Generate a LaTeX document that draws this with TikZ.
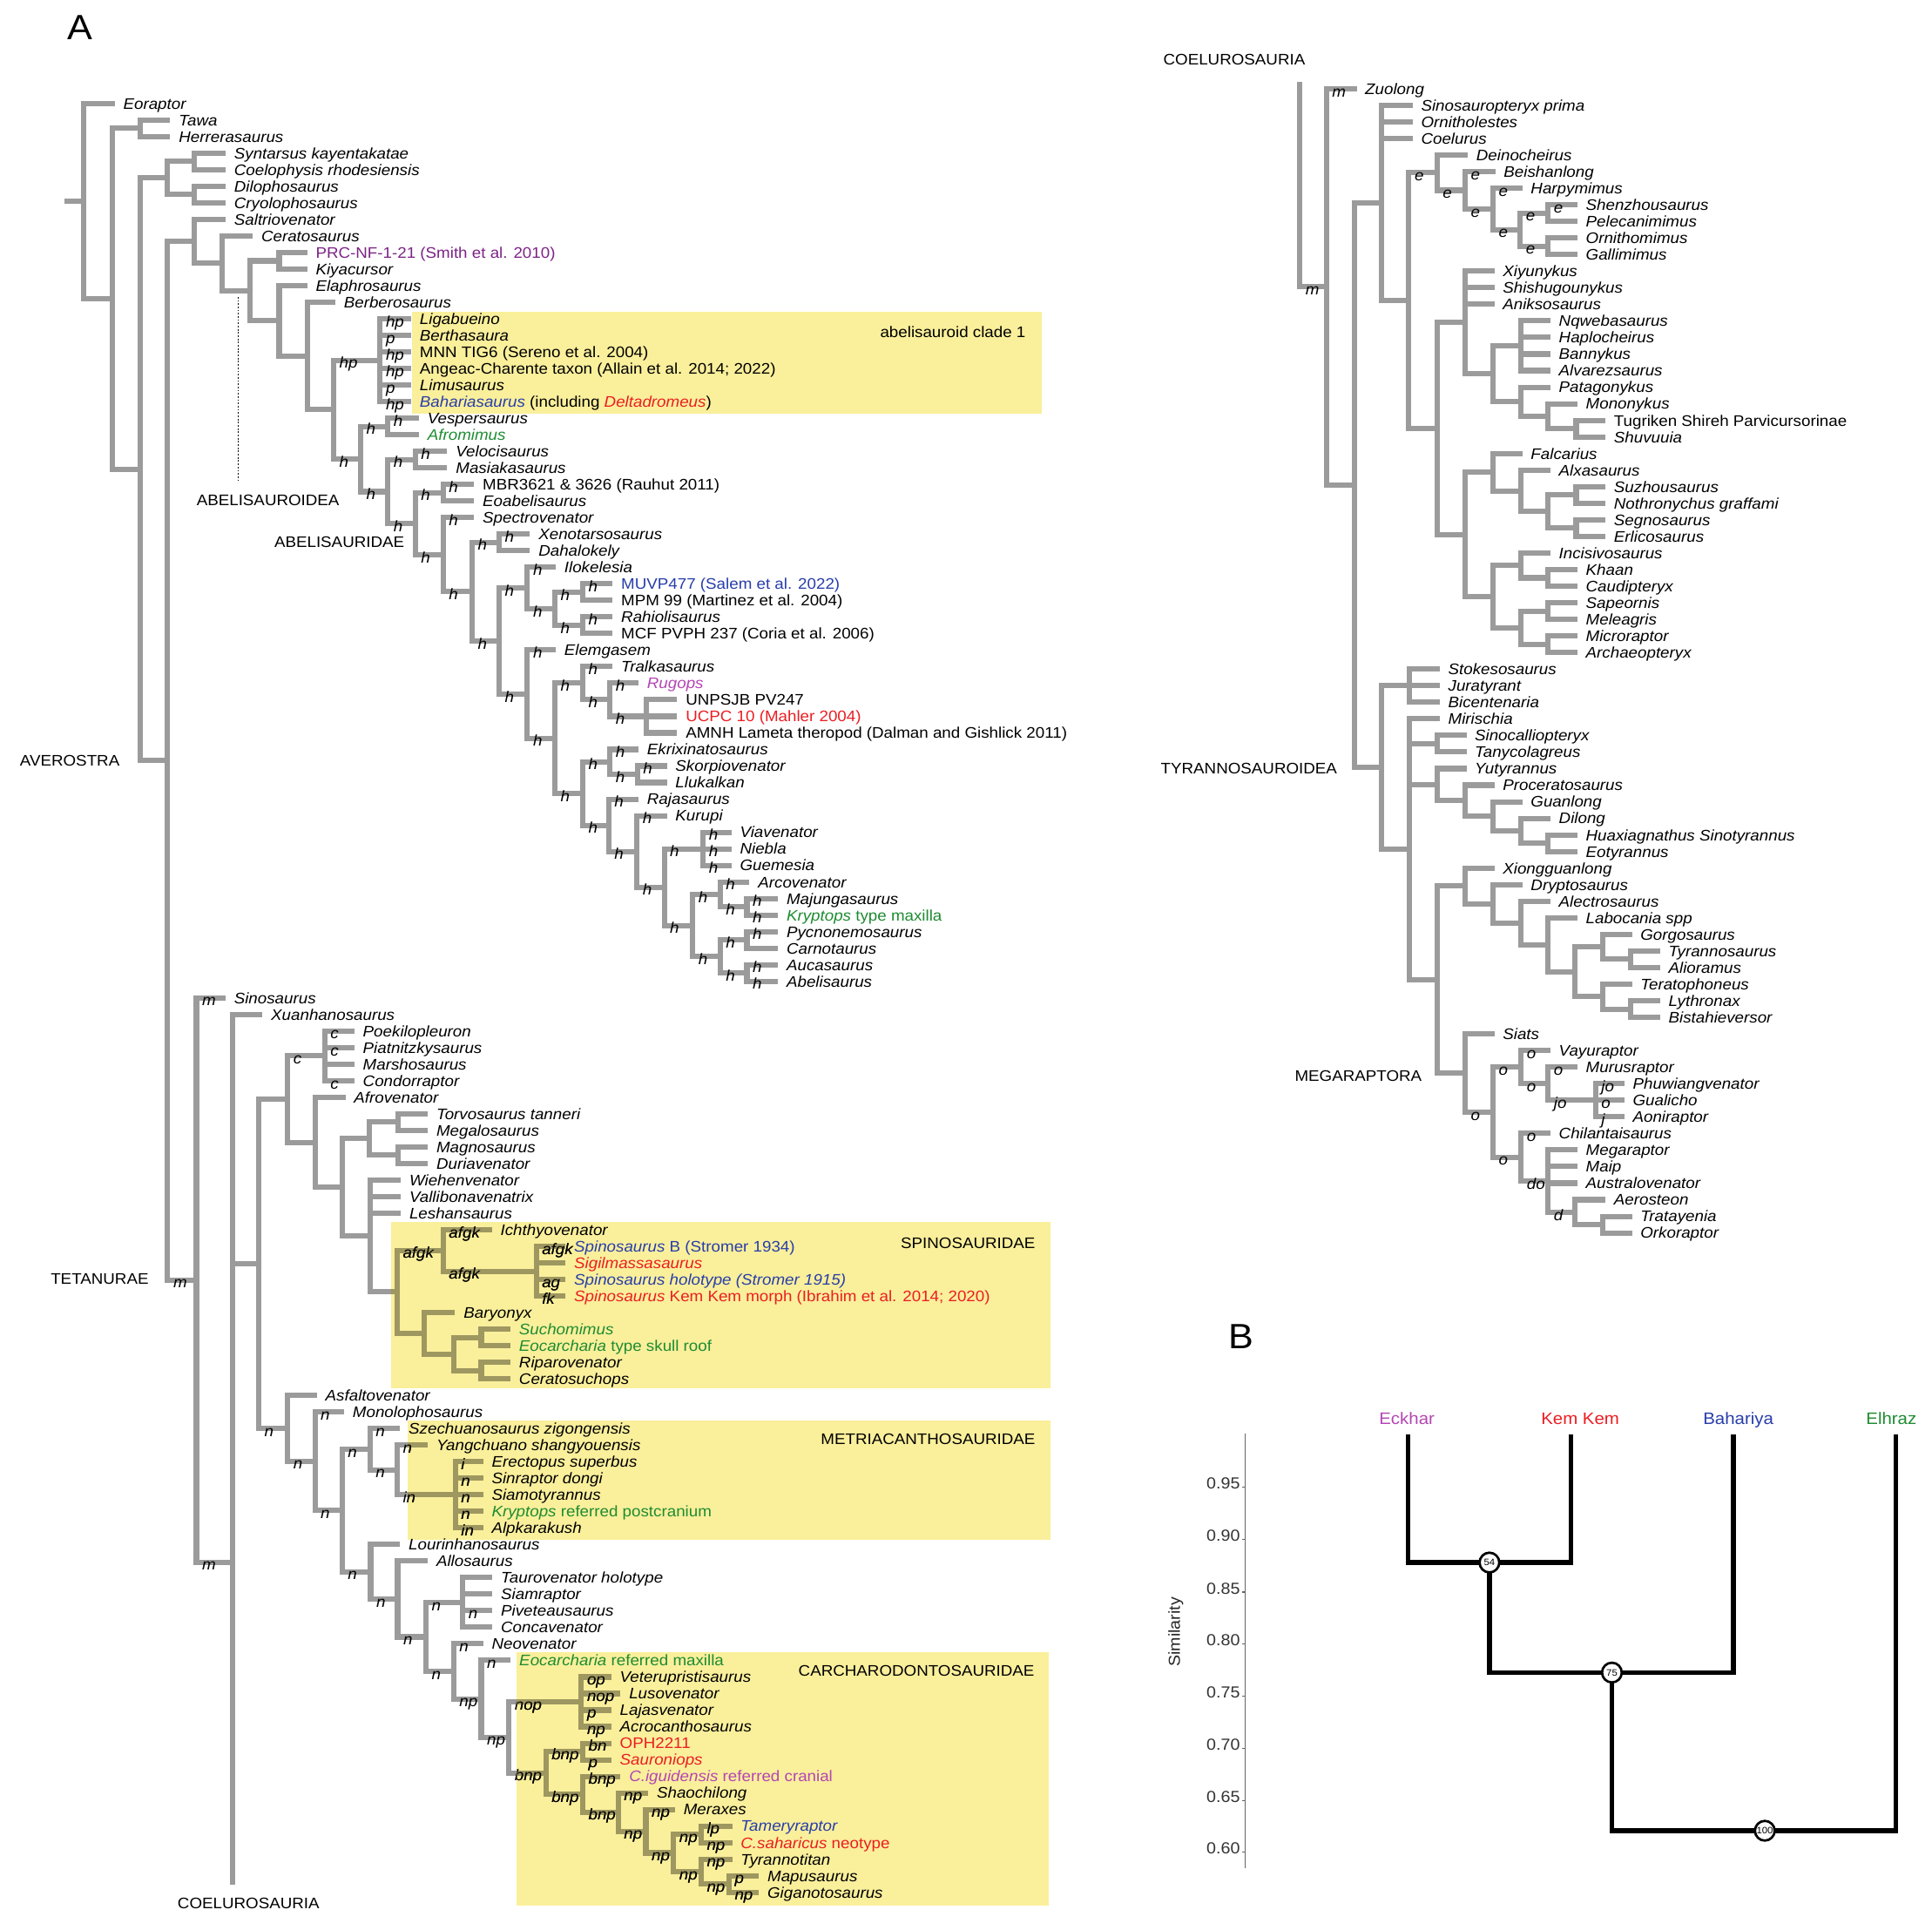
\documentclass[tikz,border=0pt]{standalone}
\usepackage{fontspec}
\setmainfont{Liberation Sans}[FakeStretch=1.07]
\usetikzlibrary{calc}
\definecolor{brg}{RGB}{155,155,155}
\definecolor{olv}{RGB}{158,151,96}
\definecolor{boxy}{RGB}{250,239,155}
\definecolor{tpur}{RGB}{125,35,135}
\definecolor{tblu}{RGB}{40,62,170}
\definecolor{tred}{RGB}{235,30,35}
\definecolor{tgrn}{RGB}{30,140,50}
\definecolor{tmag}{RGB}{180,70,180}
\colorlet{brc}{brg}
\newcommand\fs{\fontsize{12.4}{13}\selectfont}
\newcommand\I[1]{\textit{#1}}
\tikzset{
 br/.style={draw=brc,line width=4.3pt},
 tx/.style={anchor=base west,inner sep=0pt,font=\fs},
 lb/.style={anchor=base west,inner sep=0pt,font=\fs\itshape},
 grp/.style={anchor=base west,inner sep=0pt,font=\fs},
 grpr/.style={anchor=base east,inner sep=0pt,font=\fs},
 den/.style={draw=black,line width=3.8pt},
 circ/.style={circle,draw=black,fill=white,line width=1.9pt,minimum size=16pt,inner sep=0pt,font=\fontsize{7.5}{8}\selectfont},
 axis/.style={draw=black!60,line width=0.9pt},
}
\newcommand\lfL[4]{\coordinate (#1) at (#3,{84+(#2-1)*13.444});\node[tx] (#1t) at ($(#1)+(6.8,4.5)$) {#4};}
\newcommand\lfR[4]{\coordinate (#1) at (#3,{72+(#2-1)*13.46});\node[tx] (#1t) at ($(#1)+(6.5,4.5)$) {#4};}
\newcommand\cl[3]{%
 \foreach \ch/\lab [count=\ci] in {#3}{\ifnum\ci=1 \xdef\clfirst{\ch}\fi\xdef\cllast{\ch}}%
 \coordinate (clm) at ($(\clfirst)!0.5!(\cllast)$);
 \coordinate (clx) at (#2,0);
 \coordinate (#1) at (clm -| clx);
 \foreach \ch/\lab in {#3}{\draw[br] (#1) |- (\ch); \path (#1 |- \ch) ++(4.5,6.5) node[lb] {\lab};}%
}
\newcommand\drawtree{%
\cl{SC}{157.8}{synt/{},coel/{}}
\cl{DC}{157.8}{dilo/{},cryo/{}}
\cl{C0}{135.7}{SC/{},DC/{}}
\cl{PK}{226.6}{prc/{},kiya/{}}
\cl{CL1}{308.5}{liga/hp,bert/p,mnn/hp,ange/hp,limu/p,baha/hp}
\cl{VA}{314.8}{vesp/h,afro/{}}
\cl{VM}{337}{velo/h,masi/{}}
\cl{ME}{359.7}{mbr/h,eoab/{}}
\cl{XD}{405}{xeno/h,daha/{}}
\cl{MM}{472.9}{muvp/h,mpm/{}}
\cl{RM}{472.9}{rahi/h,mcf/{}}
\cl{N15}{450.3}{MM/h,RM/h}
\cl{N13}{428}{ilok/h,N15/h}
\cl{N20}{524.5}{unps/{},ucpc/{},amnh/{}}
\cl{N19}{495.1}{rugo/h,N20/h}
\cl{N17}{472.9}{tral/h,N19/h}
\cl{N23}{517.3}{skor/h,lluk/{}}
\cl{N21}{495.1}{ekri/h,N23/h}
\cl{N26}{570.6}{viav/h,nieb/h,guem/h}
\cl{N30}{606.2}{maju/h,kryp/h}
\cl{N28}{584.4}{arco/h,N30/h}
\cl{N31}{606.2}{pycn/h,carn/{}}
\cl{N32}{606.2}{auca/h,abel/h}
\cl{N29}{584.4}{N31/h,N32/h}
\cl{N27}{562.2}{N28/h,N29/h}
\cl{N25}{539.1}{N26/h,N27/h}
\cl{N24}{516.9}{kuru/h,N25/h}
\cl{N22}{493.9}{raja/h,N24/h}
\cl{N18}{472.9}{N21/h,N22/h}
\cl{N16}{450.3}{N17/h,N18/h}
\cl{N14}{428}{elem/h,N16/h}
\cl{N12}{405}{N13/h,N14/h}
\cl{N11}{383.2}{XD/h,N12/h}
\cl{N10}{359.7}{spec/h,N11/h}
\cl{N9}{337}{ME/h,N10/h}
\cl{N8}{314.8}{VM/h,N9/h}
\cl{N7}{292.6}{VA/h,N8/h}
\cl{CE6}{270.8}{CL1/hp,N7/h}
\cl{CE5}{249.3}{berb/{},CE6/{}}
\cl{CE4}{226.6}{elap/{},CE5/{}}
\cl{CE3}{202.6}{PK/{},CE4/{}}
\cl{CE2}{180.5}{cera/{},CE3/{}}
\cl{CER}{157.8}{salt/{},CE2/{}}
\cl{CP}{263.5}{poek/c,piat/c,mars/{},cond/c}
\cl{TM}{322.8}{torv/{},mega/{}}
\cl{MD}{322.8}{magn/{},duri/{}}
\cl{MEG4}{300}{TM/{},MD/{}}
\cl{SP3}{435.2}{spib/afgk,sigi/{},spih/ag,spik/fk}
\cl{SP1}{359.7}{icht/afgk,SP3/afgk}
\cl{SE}{390.6}{such/{},eoct/{}}
\cl{RC}{390.6}{ripa/{},ceto/{}}
\cl{SP4}{368}{SE/{},RC/{}}
\cl{SP2}{344.5}{bary/{},SP4/{}}
\cl{SPINO}{322.3}{SP1/afgk,SP2/{}}
\cl{MEG5}{300.3}{wieh/{},vall/{},lesh/{},SPINO/{}}
\cl{MEG3}{278}{MEG4/{},MEG5/{}}
\cl{MEG2}{255.8}{afrv/{},MEG3/{}}
\cl{MEG1}{233.5}{CP/c,MEG2/{}}
\cl{AL6}{369.6}{erec/i,sinr/n,siam/n,krpc/n,alpk/in}
\cl{AL5}{322.3}{yang/n,AL6/in}
\cl{AL4}{300.3}{szec/n,AL5/n}
\cl{AL10}{375.6}{taur/{},siar/{},pive/n,conc/{}}
\cl{AL14}{471.8}{vete/op,luso/nop,laja/p,acro/np}
\cl{AL16}{472.9}{oph/bn,saur/p}
\cl{AL21}{569}{tame/lp,csah/np}
\cl{AL23}{591.6}{mapu/p,giga/np}
\cl{AL22}{569}{tyra/np,AL23/np}
\cl{AL20}{546.6}{AL21/np,AL22/np}
\cl{AL19}{524.2}{mera/np,AL20/np}
\cl{AL18}{501.7}{shao/np,AL19/np}
\cl{AL17}{472.9}{cigu/bnp,AL18/bnp}
\cl{AL15}{443}{AL16/bnp,AL17/bnp}
\cl{AL13}{413}{AL14/nop,AL15/bnp}
\cl{AL12}{390.6}{eocm/n,AL13/np}
\cl{AL11}{368.1}{neov/n,AL12/np}
\cl{AL9}{345.7}{AL10/n,AL11/n}
\cl{AL8}{322.7}{allo/{},AL9/n}
\cl{AL7}{300.8}{lour/{},AL8/n}
\cl{AL3}{277.7}{AL4/n,AL7/n}
\cl{AL2}{255.6}{mono/n,AL3/n}
\cl{ALLO}{233.5}{asfa/{},AL2/n}
\cl{MC}{209.9}{MEG1/{},ALLO/n}
\coordinate (orion) at (188.7,1268);
\coordinate (orbot) at (188.7,1529.5);
\cl{TET}{159.4}{sino/m,orion/m}
\cl{AV}{136}{CER/{},TET/m}
\cl{NEO}{113.5}{C0/{},AV/{}}
\cl{TH}{113.5}{tawa/{},herr/{}}
\cl{A1}{91.5}{TH/{},NEO/{}}
\cl{R0}{68}{eor/{},A1/{}}
\draw[br] (R0) -- ++(-16,0);
\draw[br] (orion) |- (xuan);
\draw[br] (orion) |- (MC);
\draw[br] (orion) -- (orbot);
% right tree
\cl{ORN5}{1256.4}{shen/e,pele/{}}
\cl{ORN6}{1256.4}{ornm/{},gall/{}}
\cl{ORN4}{1233.7}{ORN5/e,ORN6/e}
\cl{ORN3}{1211.7}{harp/e,ORN4/e}
\cl{ORN2}{1189}{beis/e,ORN3/e}
\cl{ORN}{1166.2}{dein/{},ORN2/e}
\cl{ALV3}{1234.5}{nqwe/{},hapl/{},bann/{},alva/{}}
\cl{ALV6}{1279.2}{tugr/{},shuv/{}}
\cl{ALV5}{1256.4}{mono2/{},ALV6/{}}
\cl{ALV4}{1234.5}{pata/{},ALV5/{}}
\cl{ALV2}{1211.7}{ALV3/{},ALV4/{}}
\cl{ALV}{1189}{xiyu/{},shis/{},anik/{},ALV2/{}}
\cl{TH4}{1279.2}{suzh/{},noth/{}}
\cl{TH5}{1279.2}{segn/{},erli/{}}
\cl{THER3}{1256.4}{TH4/{},TH5/{}}
\cl{THER2}{1234.5}{alxa/{},THER3/{}}
\cl{THER}{1211.7}{falc/{},THER2/{}}
\cl{OV2}{1256.4}{khaa/{},caud/{}}
\cl{OVI}{1234.5}{inci/{},OV2/{}}
\cl{AV1}{1256.4}{sape/{},mele/{}}
\cl{AV2}{1256.4}{micr/{},arch/{}}
\cl{AVI}{1234.5}{AV1/{},AV2/{}}
\cl{PARA}{1211.7}{OVI/{},AVI/{}}
\cl{PEN}{1189}{THER/{},PARA/{}}
\cl{MAN}{1166.2}{ALV/{},PEN/{}}
\cl{CO4}{1143.4}{ORN/e,MAN/{}}
\cl{CO3}{1121.1}{sinp/{},orni/{},coelu/{},CO4/{}}
\cl{TY1}{1143.9}{stok/{},jura/{},bice/{}}
\cl{ST}{1166.2}{sinc/{},tany/{}}
\cl{HE}{1256.4}{huax/{},eoty/{}}
\cl{DIL}{1234.5}{dilo2/{},HE/{}}
\cl{GUAN}{1211.7}{guan/{},DIL/{}}
\cl{PROC}{1189}{proc/{},GUAN/{}}
\cl{YU}{1166.2}{yuty/{},PROC/{}}
\cl{T11}{1323.5}{tyrs/{},alio/{}}
\cl{T9}{1300.7}{gorg/{},T11/{}}
\cl{T12}{1323.5}{lyth/{},bist/{}}
\cl{T10}{1300.7}{tera/{},T12/{}}
\cl{T8}{1278.4}{T9/{},T10/{}}
\cl{T7}{1256.4}{labo/{},T8/{}}
\cl{T6}{1234.5}{alec/{},T7/{}}
\cl{T5}{1211.7}{dryp/{},T6/{}}
\cl{XI}{1189}{xion/{},T5/{}}
\cl{MG6}{1294.9}{phuw/jo,gual/o,aoni/j}
\cl{MG5}{1256.4}{muru/o,MG6/jo}
\cl{MG3}{1234.5}{vayu/o,MG5/o}
\cl{MG9}{1300.7}{trat/{},orko/{}}
\cl{MG8}{1278.4}{aero/{},MG9/{}}
\cl{MG7}{1256.4}{mgrp/{},maip/{},aust/{},MG8/d}
\cl{MG4}{1234.5}{chil/o,MG7/do}
\cl{MG2}{1211.7}{MG3/o,MG4/o}
\cl{MGR}{1189}{siat/{},MG2/o}
\cl{TY4}{1166.2}{XI/{},MGR/{}}
\cl{TY2}{1143.9}{miri/{},ST/{},YU/{},TY4/{}}
\cl{TYR}{1121.1}{TY1/{},TY2/{}}
\cl{CO2}{1099.1}{CO3/{},TYR/{}}
\cl{CO1}{1076.4}{zuol/m,CO2/{}}
\coordinate (co0) at (1054.9,66.8);
\draw[br] (co0) |- (CO1);
\path (co0 |- CO1) ++(4.5,6.5) node[lb] {m};
}
\begin{document}
\begin{tikzpicture}[x=1pt,y=-1pt]
\useasboundingbox (0,0) rectangle (1568,1566);
\fill[white] (0,0) rectangle (1568,1566);
% yellow boxes
\fill[boxy] (334.5,252.8) rectangle (845.2,336.1);
\fill[boxy] (317.2,992.1) rectangle (852.4,1126.6);
\fill[boxy] (330.7,1153) rectangle (852.4,1249.7);
\fill[boxy] (419.4,1341) rectangle (850.9,1546.6);
% left leaves
\lfL{eor}{1}{93.1}{\I{Eoraptor}}
\lfL{tawa}{2}{138.2}{\I{Tawa}}
\lfL{herr}{3}{138.2}{\I{Herrerasaurus}}
\lfL{synt}{4}{183.1}{\I{Syntarsus kayentakatae}}
\lfL{coel}{5}{183.1}{\I{Coelophysis rhodesiensis}}
\lfL{dilo}{6}{183.1}{\I{Dilophosaurus}}
\lfL{cryo}{7}{183.1}{\I{Cryolophosaurus}}
\lfL{salt}{8}{183.1}{\I{Saltriovenator}}
\lfL{cera}{9}{205.1}{\I{Ceratosaurus}}
\lfL{prc}{10}{249.3}{\color{tpur}PRC-NF-1-21 (Smith et al. 2010)}
\lfL{kiya}{11}{249.3}{\I{Kiyacursor}}
\lfL{elap}{12}{249.3}{\I{Elaphrosaurus}}
\lfL{berb}{13}{272.1}{\I{Berberosaurus}}
\lfL{liga}{14}{333.7}{\I{Ligabueino}}
\lfL{bert}{15}{333.7}{\I{Berthasaura}}
\lfL{mnn}{16}{333.7}{MNN TIG6 (Sereno et al. 2004)}
\lfL{ange}{17}{333.7}{Angeac-Charente taxon (Allain et al. 2014; 2022)}
\lfL{limu}{18}{333.7}{\I{Limusaurus}}
\lfL{baha}{19}{333.7}{\textcolor{tblu}{\I{Bahariasaurus}} (including \textcolor{tred}{\I{Deltadromeus}})}
\lfL{vesp}{20}{340}{\I{Vespersaurus}}
\lfL{afro}{21}{340}{\color{tgrn}\I{Afromimus}}
\lfL{velo}{22}{363}{\I{Velocisaurus}}
\lfL{masi}{23}{363}{\I{Masiakasaurus}}
\lfL{mbr}{24}{384.8}{MBR3621 \& 3626 (Rauhut 2011)}
\lfL{eoab}{25}{384.8}{\I{Eoabelisaurus}}
\lfL{spec}{26}{384.8}{\I{Spectrovenator}}
\lfL{xeno}{27}{430.1}{\I{Xenotarsosaurus}}
\lfL{daha}{28}{430.1}{\I{Dahalokely}}
\lfL{ilok}{29}{451}{\I{Ilokelesia}}
\lfL{muvp}{30}{497.2}{\color{tblu}MUVP477 (Salem et al. 2022)}
\lfL{mpm}{31}{497.2}{MPM 99 (Martinez et al. 2004)}
\lfL{rahi}{32}{497.2}{\I{Rahiolisaurus}}
\lfL{mcf}{33}{497.2}{MCF PVPH 237 (Coria et al. 2006)}
\lfL{elem}{34}{451}{\I{Elemgasem}}
\lfL{tral}{35}{497.2}{\I{Tralkasaurus}}
\lfL{rugo}{36}{518.2}{\color{tmag}\I{Rugops}}
\lfL{unps}{37}{549.6}{UNPSJB PV247}
\lfL{ucpc}{38}{549.6}{\color{tred}UCPC 10 (Mahler 2004)}
\lfL{amnh}{39}{549.6}{AMNH Lameta theropod (Dalman and Gishlick 2011)}
\lfL{ekri}{40}{518.2}{\I{Ekrixinatosaurus}}
\lfL{skor}{41}{541.2}{\I{Skorpiovenator}}
\lfL{lluk}{42}{541.2}{\I{Llukalkan}}
\lfL{raja}{43}{518.2}{\I{Rajasaurus}}
\lfL{kuru}{44}{541.2}{\I{Kurupi}}
\lfL{viav}{45}{593.6}{\I{Viavenator}}
\lfL{nieb}{46}{593.6}{\I{Niebla}}
\lfL{guem}{47}{593.6}{\I{Guemesia}}
\lfL{arco}{48}{608.3}{\I{Arcovenator}}
\lfL{maju}{49}{631.4}{\I{Majungasaurus}}
\lfL{kryp}{50}{631.4}{\color{tgrn}\I{Kryptops} type maxilla}
\lfL{pycn}{51}{631.4}{\I{Pycnonemosaurus}}
\lfL{carn}{52}{631.4}{\I{Carnotaurus}}
\lfL{auca}{53}{631.4}{\I{Aucasaurus}}
\lfL{abel}{54}{631.4}{\I{Abelisaurus}}
\lfL{sino}{55}{183}{\I{Sinosaurus}}
\lfL{xuan}{56}{213}{\I{Xuanhanosaurus}}
\lfL{poek}{57}{287.6}{\I{Poekilopleuron}}
\lfL{piat}{58}{287.6}{\I{Piatnitzkysaurus}}
\lfL{mars}{59}{287.6}{\I{Marshosaurus}}
\lfL{cond}{60}{287.6}{\I{Condorraptor}}
\lfL{afrv}{61}{280.3}{\I{Afrovenator}}
\lfL{torv}{62}{347.2}{\I{Torvosaurus tanneri}}
\lfL{mega}{63}{347.2}{\I{Megalosaurus}}
\lfL{magn}{64}{347.2}{\I{Magnosaurus}}
\lfL{duri}{65}{347.2}{\I{Duriavenator}}
\lfL{wieh}{66}{325.3}{\I{Wiehenvenator}}
\lfL{vall}{67}{325.3}{\I{Vallibonavenatrix}}
\lfL{lesh}{68}{325.3}{\I{Leshansaurus}}
\lfL{icht}{69}{399.2}{\I{Ichthyovenator}}
\lfL{spib}{70}{459}{\color{tblu}\I{Spinosaurus} B (Stromer 1934)}
\lfL{sigi}{71}{459}{\color{tred}\I{Sigilmassasaurus}}
\lfL{spih}{72}{459}{\color{tblu}\I{Spinosaurus holotype (Stromer 1915)}}
\lfL{spik}{73}{459}{\color{tred}\I{Spinosaurus} Kem Kem morph (Ibrahim et al. 2014; 2020)}
\lfL{bary}{74}{369.3}{\I{Baryonyx}}
\lfL{such}{75}{414.3}{\color{tgrn}\I{Suchomimus}}
\lfL{eoct}{76}{414.3}{\color{tgrn}\I{Eocarcharia} type skull roof}
\lfL{ripa}{77}{414.3}{\I{Riparovenator}}
\lfL{ceto}{78}{414.3}{\I{Ceratosuchops}}
\lfL{asfa}{79}{257.2}{\I{Asfaltovenator}}
\lfL{mono}{80}{279.3}{\I{Monolophosaurus}}
\lfL{szec}{81}{324.7}{\I{Szechuanosaurus zigongensis}}
\lfL{yang}{82}{347.2}{\I{Yangchuano shangyouensis}}
\lfL{erec}{83}{392.1}{\I{Erectopus superbus}}
\lfL{sinr}{84}{392.1}{\I{Sinraptor dongi}}
\lfL{siam}{85}{392.1}{\I{Siamotyrannus}}
\lfL{krpc}{86}{392.1}{\color{tgrn}\I{Kryptops} referred postcranium}
\lfL{alpk}{87}{392.1}{\I{Alpkarakush}}
\lfL{lour}{88}{324.7}{\I{Lourinhanosaurus}}
\lfL{allo}{89}{347.2}{\I{Allosaurus}}
\lfL{taur}{90}{399.6}{\I{Taurovenator holotype}}
\lfL{siar}{91}{399.6}{\I{Siamraptor}}
\lfL{pive}{92}{399.6}{\I{Piveteausaurus}}
\lfL{conc}{93}{399.6}{\I{Concavenator}}
\lfL{neov}{94}{392.1}{\I{Neovenator}}
\lfL{eocm}{95}{414.5}{\color{tgrn}\I{Eocarcharia} referred maxilla}
\lfL{vete}{96}{496.1}{\I{Veterupristisaurus}}
\lfL{luso}{97}{503.6}{\I{Lusovenator}}
\lfL{laja}{98}{496.1}{\I{Lajasvenator}}
\lfL{acro}{99}{496.1}{\I{Acrocanthosaurus}}
\lfL{oph}{100}{496.1}{\color{tred}OPH2211}
\lfL{saur}{101}{496.1}{\color{tred}\I{Sauroniops}}
\lfL{cigu}{102}{503.6}{\color{tmag}\I{C.iguidensis} referred cranial}
\lfL{shao}{103}{526.1}{\I{Shaochilong}}
\lfL{mera}{104}{547.8}{\I{Meraxes}}
\lfL{tame}{105}{594.2}{\color{tblu}\I{Tameryraptor}}
\lfL{csah}{106}{594.2}{\color{tred}\I{C.saharicus} neotype}
\lfL{tyra}{107}{594.2}{\I{Tyrannotitan}}
\lfL{mapu}{108}{615.9}{\I{Mapusaurus}}
\lfL{giga}{109}{615.9}{\I{Giganotosaurus}}
% right leaves
\lfR{zuol}{1}{1101.2}{\I{Zuolong}}
\lfR{sinp}{2}{1146.7}{\I{Sinosauropteryx prima}}
\lfR{orni}{3}{1146.7}{\I{Ornitholestes}}
\lfR{coelu}{4}{1146.7}{\I{Coelurus}}
\lfR{dein}{5}{1191.5}{\I{Deinocheirus}}
\lfR{beis}{6}{1213.8}{\I{Beishanlong}}
\lfR{harp}{7}{1235.7}{\I{Harpymimus}}
\lfR{shen}{8}{1280.4}{\I{Shenzhousaurus}}
\lfR{pele}{9}{1280.4}{\I{Pelecanimimus}}
\lfR{ornm}{10}{1280.4}{\I{Ornithomimus}}
\lfR{gall}{11}{1280.4}{\I{Gallimimus}}
\lfR{xiyu}{12}{1213}{\I{Xiyunykus}}
\lfR{shis}{13}{1213}{\I{Shishugounykus}}
\lfR{anik}{14}{1213}{\I{Aniksosaurus}}
\lfR{nqwe}{15}{1258.5}{\I{Nqwebasaurus}}
\lfR{hapl}{16}{1258.5}{\I{Haplocheirus}}
\lfR{bann}{17}{1258.5}{\I{Bannykus}}
\lfR{alva}{18}{1258.5}{\I{Alvarezsaurus}}
\lfR{pata}{19}{1258.5}{\I{Patagonykus}}
\lfR{mono2}{20}{1280.4}{\I{Mononykus}}
\lfR{tugr}{21}{1303.2}{Tugriken Shireh Parvicursorinae}
\lfR{shuv}{22}{1303.2}{\I{Shuvuuia}}
\lfR{falc}{23}{1235.7}{\I{Falcarius}}
\lfR{alxa}{24}{1258.5}{\I{Alxasaurus}}
\lfR{suzh}{25}{1303.2}{\I{Suzhousaurus}}
\lfR{noth}{26}{1303.2}{\I{Nothronychus graffami}}
\lfR{segn}{27}{1303.2}{\I{Segnosaurus}}
\lfR{erli}{28}{1303.2}{\I{Erlicosaurus}}
\lfR{inci}{29}{1258.5}{\I{Incisivosaurus}}
\lfR{khaa}{30}{1280.4}{\I{Khaan}}
\lfR{caud}{31}{1280.4}{\I{Caudipteryx}}
\lfR{sape}{32}{1280.4}{\I{Sapeornis}}
\lfR{mele}{33}{1280.4}{\I{Meleagris}}
\lfR{micr}{34}{1280.4}{\I{Microraptor}}
\lfR{arch}{35}{1280.4}{\I{Archaeopteryx}}
\lfR{stok}{36}{1168.7}{\I{Stokesosaurus}}
\lfR{jura}{37}{1168.7}{\I{Juratyrant}}
\lfR{bice}{38}{1168.7}{\I{Bicentenaria}}
\lfR{miri}{39}{1168.7}{\I{Mirischia}}
\lfR{sinc}{40}{1190.2}{\I{Sinocalliopteryx}}
\lfR{tany}{41}{1190.2}{\I{Tanycolagreus}}
\lfR{yuty}{42}{1190.2}{\I{Yutyrannus}}
\lfR{proc}{43}{1213}{\I{Proceratosaurus}}
\lfR{guan}{44}{1235.7}{\I{Guanlong}}
\lfR{dilo2}{45}{1258.5}{\I{Dilong}}
\lfR{huax}{46}{1280.4}{\I{Huaxiagnathus Sinotyrannus}}
\lfR{eoty}{47}{1280.4}{\I{Eotyrannus}}
\lfR{xion}{48}{1213}{\I{Xiongguanlong}}
\lfR{dryp}{49}{1235.7}{\I{Dryptosaurus}}
\lfR{alec}{50}{1258.5}{\I{Alectrosaurus}}
\lfR{labo}{51}{1280.4}{\I{Labocania spp}}
\lfR{gorg}{52}{1324.7}{\I{Gorgosaurus}}
\lfR{tyrs}{53}{1347.5}{\I{Tyrannosaurus}}
\lfR{alio}{54}{1347.5}{\I{Alioramus}}
\lfR{tera}{55}{1324.7}{\I{Teratophoneus}}
\lfR{lyth}{56}{1347.5}{\I{Lythronax}}
\lfR{bist}{57}{1347.5}{\I{Bistahieversor}}
\lfR{siat}{58}{1213}{\I{Siats}}
\lfR{vayu}{59}{1258.5}{\I{Vayuraptor}}
\lfR{muru}{60}{1280.4}{\I{Murusraptor}}
\lfR{phuw}{61}{1318.5}{\I{Phuwiangvenator}}
\lfR{gual}{62}{1318.5}{\I{Gualicho}}
\lfR{aoni}{63}{1318.5}{\I{Aoniraptor}}
\lfR{chil}{64}{1258.5}{\I{Chilantaisaurus}}
\lfR{mgrp}{65}{1280.4}{\I{Megaraptor}}
\lfR{maip}{66}{1280.4}{\I{Maip}}
\lfR{aust}{67}{1280.4}{\I{Australovenator}}
\lfR{aero}{68}{1303.2}{\I{Aerosteon}}
\lfR{trat}{69}{1324.7}{\I{Tratayenia}}
\lfR{orko}{70}{1324.7}{\I{Orkoraptor}}
% tree in grey
\drawtree
% tree inside the yellow boxes in olive
\begin{scope}
\clip (334.5,252.8) rectangle (845.2,336.1) (317.2,992.1) rectangle (852.4,1126.6)
      (330.7,1153) rectangle (852.4,1249.7) (419.4,1341) rectangle (850.9,1546.6);
\colorlet{brc}{olv}
\drawtree
\end{scope}
% group names
\draw[line width=0.9pt,dash pattern=on 1.3pt off 1.3pt] (193.2,241) -- (193.2,391);
\node[grp] (gABO) at (159.4,410.2) {ABELISAUROIDEA};
\node[grp] (gABI) at (222.5,444.2) {ABELISAURIDAE};
\node[grp] (gAVE) at (16,621.4) {AVEROSTRA};
\node[grp] (gTET) at (41,1042.4) {TETANURAE};
\node[grp] (gCOa) at (144,1549.2) {COELUROSAURIA};
\node[grp] (gCOb) at (944,52.7) {COELUROSAURIA};
\node[grp] (gTYR) at (941.9,628.2) {TYRANNOSAUROIDEA};
\node[grp] (gMEG) at (1050.7,877.5) {MEGARAPTORA};
\node[grpr] (gCL1) at (832.6,274.2) {abelisauroid clade 1};
\node[grpr] (gSPI) at (840.4,1013.1) {SPINOSAURIDAE};
\node[grpr] (gMET) at (840.4,1172.3) {METRIACANTHOSAURIDAE};
\node[grpr] (gCAR) at (839.7,1360.3) {CARCHARODONTOSAURIDAE};
\node[font=\fontsize{28.5}{30}\selectfont,inner sep=0pt] (pA) at (65.2,22.2) {A};
% panel B
\node[font=\fontsize{28.5}{30}\selectfont,inner sep=0pt] (pB) at (1007,1085) {B};
\draw[axis] (1010.6,1163.6) -- (1010.6,1516.6);
\foreach \v/\yy in {0.95/1203.9,0.90/1246.7,0.85/1289.3,0.80/1331.2,0.75/1373.8,0.70/1416.0,0.65/1458.5,0.60/1500.5}{
  \draw[axis] (1007.8,\yy+3) -- (1010.6,\yy+3);
  \node[anchor=east,inner sep=0pt,font=\fontsize{13}{14}\selectfont,text=black!80] (t\v) at (1006.5,\yy) {\v};
}
\node[rotate=90,inner sep=0pt,font=\fontsize{13}{14}\selectfont,text=black!85] (simy) at (954.3,1324.7) {Similarity};
\node[anchor=base,inner sep=0pt,font=\fontsize{13.5}{14}\selectfont,text=tmag] (eck) at (1141.8,1156.4) {Eckhar};
\node[anchor=base,inner sep=0pt,font=\fontsize{13.5}{14}\selectfont,text=tred] (kem) at (1282.5,1156.4) {Kem Kem};
\node[anchor=base,inner sep=0pt,font=\fontsize{13.5}{14}\selectfont,text=tblu] (bah) at (1410.8,1156.4) {Bahariya};
\node[anchor=base,inner sep=0pt,font=\fontsize{13.5}{14}\selectfont,text=tgrn] (elh) at (1535,1156.4) {Elhraz};
\coordinate (eckt) at (1142.6,1164.2);
\coordinate (kemt) at (1275,1164.2);
\coordinate (baht) at (1406.7,1164.2);
\coordinate (elht) at (1538.7,1164.2);
\coordinate (n54) at (1208.8,1268.3);
\coordinate (n75) at (1308.2,1357.6);
\coordinate (n100) at (1432.3,1486);
\draw[den] (eckt) |- (n54) -| (kemt);
\draw[den] (n54) |- (n75) -| (baht);
\draw[den] (n75) |- (n100) -| (elht);
\node[circ] (c54) at (n54) {54};
\node[circ] (c75) at (n75) {75};
\node[circ] (c100) at (n100) {100};
\end{tikzpicture}
\end{document}
